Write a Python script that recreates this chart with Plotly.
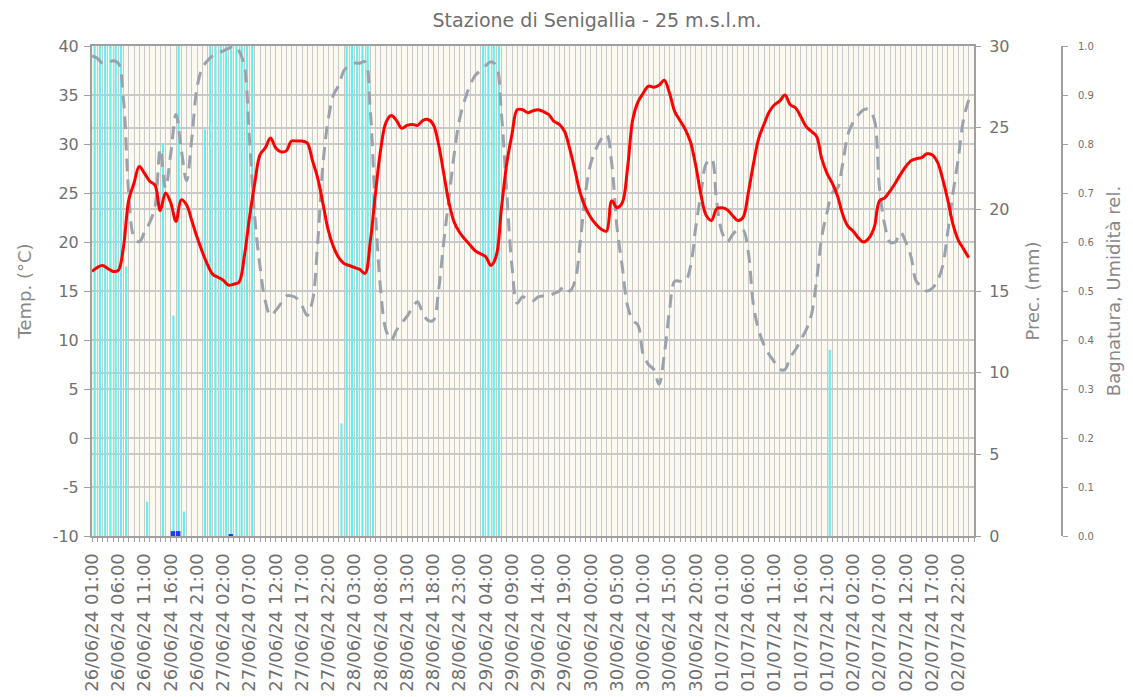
import pandas as pd
import plotly.graph_objects as go

# ---- data (hourly, from 26/06/24 01:00) ----
times = pd.date_range("2024-06-26 01:00", periods=168, freq="h")

temperature = [
    17.0, 17.4, 17.6, 17.3, 17.0, 17.1, 19.5, 24.3, 26.0, 27.7, 27.0, 26.2,
    25.8, 23.2, 25.0, 24.0, 22.1, 24.3, 23.8, 22.2, 20.5, 19.0, 17.7, 16.7,
    16.4, 16.1, 15.6, 15.7, 15.9, 18.5, 22.5, 26.0, 28.9, 29.6, 30.6, 29.6,
    29.2, 29.3, 30.3, 30.3, 30.3, 30.1, 28.3, 26.5, 23.9, 21.2, 19.5, 18.4,
    17.8, 17.6, 17.4, 17.2, 16.8, 20.0, 25.0, 29.5, 32.2, 32.9, 32.4, 31.6,
    31.9, 32.0, 31.9, 32.4, 32.5, 32.0, 30.0, 27.0, 24.0, 22.0, 21.0, 20.3,
    19.7, 19.1, 18.8, 18.5, 17.6, 18.6, 23.5, 28.0, 31.0, 33.5, 33.5, 33.2,
    33.4, 33.5, 33.3, 33.0, 32.3, 32.0, 31.3, 29.5, 27.3, 25.0, 23.5, 22.5,
    21.8, 21.3, 21.1, 24.2, 23.5, 24.0, 27.5, 32.5, 34.3, 35.2, 35.9, 35.8,
    36.0, 36.5, 35.2, 33.3, 32.4, 31.5, 30.2, 27.8, 24.8, 22.7, 22.2, 23.4,
    23.5, 23.3, 22.7, 22.2, 22.5, 25.0, 28.0, 30.6, 32.0, 33.3, 34.0, 34.4,
    35.0, 34.0, 33.7, 32.8, 31.8, 31.3, 30.8, 28.5, 27.0, 26.0, 24.7, 22.8,
    21.6, 21.1, 20.4, 20.0, 20.4, 21.5, 24.2, 24.5, 25.2, 26.0, 26.9, 27.7,
    28.3, 28.5, 28.6, 29.0, 28.9, 28.2, 26.5, 24.3, 21.8, 20.2, 19.3, 18.4,
]

humidity = [
    0.98, 0.975, 0.965, 0.965, 0.97, 0.965, 0.89, 0.70, 0.61, 0.60, 0.62, 0.64,
    0.672, 0.79, 0.71, 0.78, 0.86, 0.79, 0.725, 0.81, 0.915, 0.955, 0.97, 0.98,
    0.985, 0.99, 0.995, 1.0, 0.99, 0.96, 0.81, 0.65, 0.55, 0.48, 0.45, 0.46,
    0.475, 0.49, 0.49, 0.485, 0.47, 0.45, 0.48, 0.60, 0.76, 0.85, 0.90, 0.92,
    0.95, 0.96, 0.965, 0.965, 0.968, 0.87, 0.66, 0.50, 0.42, 0.40, 0.42, 0.435,
    0.448, 0.465, 0.478, 0.455, 0.44, 0.44, 0.50, 0.60, 0.69, 0.78, 0.85, 0.89,
    0.92, 0.94, 0.95, 0.96, 0.968, 0.96, 0.86, 0.70, 0.55, 0.475, 0.488, 0.482,
    0.48, 0.488, 0.49, 0.49, 0.495, 0.50, 0.51, 0.50, 0.52, 0.60, 0.70, 0.76,
    0.79, 0.81, 0.82, 0.76, 0.63, 0.55, 0.47, 0.44, 0.43, 0.37, 0.35, 0.34,
    0.31, 0.37, 0.46, 0.52, 0.52, 0.52, 0.55, 0.63, 0.70, 0.76, 0.77, 0.68,
    0.62, 0.60, 0.615, 0.625, 0.625, 0.58, 0.47, 0.42, 0.39, 0.37, 0.355, 0.34,
    0.34, 0.365, 0.38, 0.40, 0.42, 0.45, 0.52, 0.61, 0.66, 0.70, 0.71, 0.76,
    0.82, 0.845, 0.86, 0.87, 0.87, 0.85, 0.71, 0.635, 0.60, 0.60, 0.62, 0.60,
    0.57, 0.52, 0.51, 0.50, 0.505, 0.52, 0.55, 0.62, 0.70, 0.77, 0.85, 0.89,
]

wetness = [
    1, 1, 1, 1, 1, 1, 0.55, 0, 0, 0, 0.07, 0, 0, 0.80, 0, 0.45, 1, 0.05, 0, 0, 0, 0.83, 1, 1,
    1, 1, 1, 1, 1, 1, 1, 0, 0, 0, 0, 0, 0, 0, 0, 0, 0, 0, 0, 0, 0, 0, 0, 0.23,
    1, 1, 1, 1, 1, 0.70, 0, 0, 0, 0, 0, 0, 0, 0, 0, 0, 0, 0, 0, 0, 0, 0, 0, 0,
    0, 0, 1, 1, 1, 1, 0, 0, 0, 0, 0, 0, 0, 0, 0, 0, 0, 0, 0, 0, 0, 0, 0, 0,
    0, 0, 0, 0, 0, 0, 0, 0, 0, 0, 0, 0, 0, 0, 0, 0, 0, 0, 0, 0, 0, 0, 0, 0,
    0, 0, 0, 0, 0, 0, 0, 0, 0, 0, 0, 0, 0, 0, 0, 0, 0, 0, 0, 0, 0.38, 0, 0, 0,
    0, 0, 0, 0, 0, 0, 0, 0, 0, 0, 0, 0, 0, 0, 0, 0, 0, 0, 0, 0, 0, 0, 0, 0,
]

precipitation = [0.0] * 168
precipitation[15] = 0.3
precipitation[16] = 0.3
precipitation[26] = 0.1

tick_times = list(times[::5])
tick_labels = [t.strftime("%d/%m/%y %H:%M") for t in tick_times]

temp_ticks = [-10, -5, 0, 5, 10, 15, 20, 25, 30, 35, 40]
temp_labels = ["-10", "-5", "0", "5", "10", "15", "20", "25", "30", "35", "40"]

# ---- figure ----
HOUR = 3600000
GRID = "#C9C9C9"
AXIS = "#A0A0A0"
TXT = "#707070"
TTL = "#888888"
FONT = "DejaVu Sans"

# page has an 8px body margin -> figure coordinates are page - 8
W, H = 1125, 689
L, T, B, R = 84, 38, 161, 12
paper_w = W - L - R
dom_end = 882 / paper_w

fig = go.Figure()

fig.add_trace(go.Bar(
    x=times, y=wetness, yaxis="y",
    marker=dict(color="#62F0F0", line=dict(width=0)),
    width=0.42 * HOUR, offset=0.3 * HOUR, name="Bagnatura",
))
fig.add_trace(go.Scatter(
    x=times, y=humidity, yaxis="y", mode="lines",
    line=dict(color="#9AA2AC", width=3, dash="13px,8px", shape="spline"),
    name="Umidità rel.",
))
fig.add_trace(go.Bar(
    x=times, y=precipitation, yaxis="y2",
    marker=dict(color="#1E3CFF", line=dict(width=0)),
    width=0.85 * HOUR, offset=0.0, name="Prec.",
))
fig.add_trace(go.Scatter(
    x=times, y=temperature, yaxis="y3", mode="lines",
    line=dict(color="#FF0000", width=3, shape="spline"),
    name="Temp.",
))

fig.update_layout(
    width=W, height=H,
    margin=dict(l=L, r=R, t=T, b=B, autoexpand=False),
    paper_bgcolor="white",
    plot_bgcolor="#FCFAF0",
    showlegend=False,
    barmode="overlay",
    font=dict(family=FONT, color=TXT),
    title=dict(
        text="Stazione di Senigallia - 25 m.s.l.m.",
        x=(597 - 8) / W, xanchor="center", xref="container",
        y=1 - (20 - 8) / H, yanchor="middle", yref="container",
        font=dict(family=FONT, size=19, color="#6E6E6E"),
    ),
    xaxis=dict(
        domain=[0, dom_end],
        type="date",
        range=[times[0], times[0] + pd.Timedelta(hours=168)],
        tickmode="array", tickvals=tick_times, ticktext=tick_labels,
        tickangle=-90,
        tickfont=dict(size=18, color=TXT, family=FONT),
        ticklabelstandoff=4,
        showgrid=True, gridcolor=GRID, gridwidth=1,
        ticks="outside", ticklen=4, tickcolor=AXIS,
        minor=dict(tick0=times[0], dtick=HOUR, showgrid=True, gridcolor=GRID,
                   gridwidth=1, ticks="outside", ticklen=4, tickcolor=AXIS),
        showline=True, linecolor=AXIS, linewidth=2, mirror=True,
        zeroline=False, automargin=False,
    ),
    yaxis=dict(
        range=[0, 1], dtick=0.1, tick0=0, tickformat=".1f",
        anchor="free", position=(1062 - 8 - L) / paper_w, side="right",
        showline=True, linecolor=AXIS, linewidth=2,
        ticks="outside", ticklen=5, tickcolor=AXIS,
        tickfont=dict(size=10, color=TXT, family=FONT),
        ticklabelstandoff=8,
        showgrid=False, zeroline=False, automargin=False,
        title=dict(text="Bagnatura, Umidità rel.", standoff=13,
                   font=dict(size=18, color=TTL, family=FONT)),
    ),
    yaxis2=dict(
        overlaying="y", side="right", anchor="x",
        range=[0, 30], dtick=5, tick0=0,
        showgrid=True, gridcolor=GRID, gridwidth=1.5,
        ticks="outside", ticklen=6, tickcolor=AXIS,
        tickfont=dict(size=16, color=TXT, family=FONT),
        ticklabelstandoff=5,
        showline=False, zeroline=False, automargin=False,
        title=dict(text="Prec. (mm)", standoff=17,
                   font=dict(size=18, color=TTL, family=FONT)),
    ),
    yaxis3=dict(
        overlaying="y", side="left", anchor="x",
        range=[-10, 40],
        tickmode="array", tickvals=temp_ticks, ticktext=temp_labels,
        showgrid=True, gridcolor=GRID, gridwidth=1.5,
        ticks="outside", ticklen=6, tickcolor=AXIS,
        tickfont=dict(size=16, color=TXT, family=FONT),
        ticklabelstandoff=2,
        showline=True, linecolor=AXIS, linewidth=2, mirror=True,
        zeroline=False, automargin=False,
        title=dict(text="Temp. (°C)", standoff=16,
                   font=dict(size=18, color=TTL, family=FONT)),
    ),
)

fig.write_html("out.html")
